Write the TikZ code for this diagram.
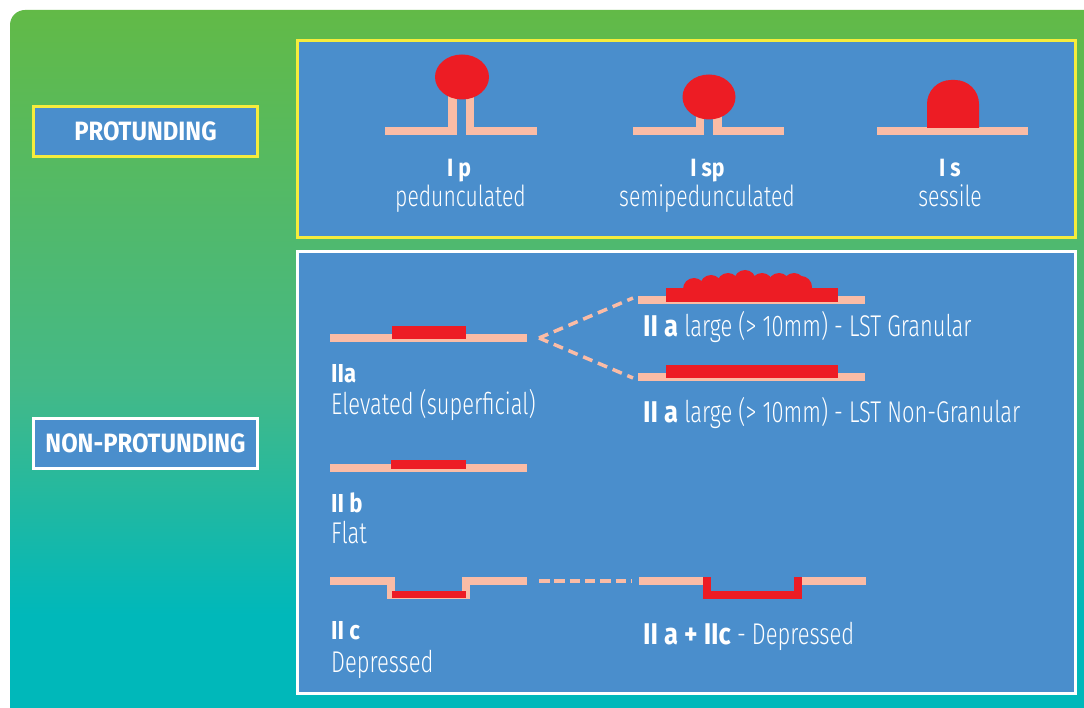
\documentclass[tikz,border=0pt]{standalone}
\usepackage{fontspec}
\IfFontExistsTF{Fira Sans Light}
  {\newfontfamily\lightfont{Fira Sans Light}[FakeStretch=0.73]}
  {\newfontfamily\lightfont{Liberation Sans}[FakeStretch=0.70]}
\newfontfamily\heavyfont{Fira Sans}[FakeStretch=0.85]
\newfontfamily\tagfont{Fira Sans}[FakeStretch=0.9]

\definecolor{gtop}{RGB}{98,186,71}
\definecolor{gmid}{RGB}{68,185,135}
\definecolor{gbot}{RGB}{0,184,186}
\definecolor{panel}{RGB}{74,142,204}
\definecolor{lesred}{RGB}{237,28,36}
\definecolor{salmon}{RGB}{250,188,166}
\definecolor{yframe}{RGB}{246,236,60}

% the path box covers 25bp..75bp of the shading
\pgfdeclareverticalshading{bgshade}{100bp}{color(0bp)=(gbot); color(33bp)=(gbot); color(49bp)=(gmid); color(75bp)=(gtop); color(100bp)=(gtop)}

\newcommand\bdlab[1]{{\heavyfont\bfseries #1}}
\newcommand\ltbig{\lightfont\fontsize{30}{33}\selectfont}
\newcommand\ltsmall{\lightfont\fontsize{29}{32}\selectfont}
\newcommand\bdbig{\heavyfont\bfseries\fontsize{26}{30}\selectfont}
\newcommand\bdsmall{\heavyfont\bfseries\fontsize{25}{29}\selectfont}

\tikzset{
  tissue/.style={fill=salmon},
  lesion/.style={fill=lesred},
  dashlink/.style={draw=salmon, line width=3.5pt, dash pattern=on 10pt off 6pt},
  dashflat/.style={draw=salmon, line width=4pt, dash pattern=on 10.5pt off 4.8pt},
  labelbox/.style={fill=panel, line width=2.7pt, minimum width=224pt,
    minimum height=50pt, inner sep=0pt, text=white,
    font=\tagfont\bfseries\fontsize{26.5}{29}\selectfont},
  txt/.style={anchor=base west, inner sep=0pt, text=white},
  ctxt/.style={anchor=base, inner sep=0pt, text=white},
}

\begin{document}
\begin{tikzpicture}[x=1pt,y=-1pt]
\useasboundingbox (0,0) rectangle (1084,708);
\fill[white] (0,0) rectangle (1084,708);
% gradient backdrop
\shade[shading=bgshade, rounded corners=15pt] (10,10) rectangle (1110,730);

% panels
\draw[fill=panel, draw=yframe, line width=3pt] (297.5,40.5) rectangle (1075.5,237.5);
\draw[fill=panel, draw=white, line width=3pt] (297,251.5) rectangle (1075.5,693.5);

% category boxes
\node[labelbox, draw=yframe] (prot) at (145.5,131.5) {PROTUNDING};
\node[labelbox, draw=white] (nonprot) at (145.5,443.5) {NON-PROTUNDING};

% ---- I p : pedunculated
\fill[tissue] (385,127) rectangle (457,135);
\fill[tissue] (448,92) rectangle (457,135);
\fill[tissue] (466,127) rectangle (537,135);
\fill[tissue] (466,92) rectangle (474,135);
\fill[lesion] (462,77) ellipse [x radius=27, y radius=22.5];
\node[ctxt, font=\bdsmall] (ip) at (459,177) {I p};
\node[ctxt, font=\ltsmall] (ipt) at (460.5,207) {pedunculated};

% ---- I sp : semipedunculated
\fill[tissue] (633,127) rectangle (704,135);
\fill[tissue] (696,110) rectangle (704,135);
\fill[tissue] (713,127) rectangle (784,135);
\fill[tissue] (713,110) rectangle (722,135);
\fill[lesion] (709,97) ellipse [x radius=26.5, y radius=22.5];
\node[ctxt, font=\bdsmall] (isp) at (707.5,177) {I sp};
\node[ctxt, font=\ltsmall] (ispt) at (707,207) {semipedunculated};

% ---- I s : sessile
\fill[tissue] (877,127) rectangle (1028,135);
\fill[lesion] (927,128) [rounded corners=24pt] -- (927,80) -- (979,80) [sharp corners] -- (979,128) -- cycle;
\node[ctxt, font=\bdsmall] (is) at (950,177) {I s};
\node[ctxt, font=\ltsmall] (ist) at (950,207) {sessile};

% ---- IIa elevated
\fill[tissue] (330,334) rectangle (527,342);
\fill[lesion] (392,326) rectangle (466,339);
\node[txt, font=\bdbig] (iia) at (331,382) {IIa};
\node[txt, font=\ltbig] (iiat) at (331,414) {Elevated (superficial)};

% ---- LST granular
\fill[tissue] (638,296) rectangle (865,304);
\fill[lesion] (666,288) rectangle (838,302);
\foreach \cx/\cy in {694/289, 711/286, 728/284, 745/281, 762/284, 779/284, 794/284, 801/287}
  \fill[lesion] (\cx,\cy) circle [radius=11];
\node[txt, font=\ltbig] (gran) at (643,337) {\bdlab{II a} large (> 10mm) - LST Granular};

% ---- LST non-granular
\fill[tissue] (638,373) rectangle (865,381);
\fill[lesion] (666,365) rectangle (838,378);
\node[txt, font=\ltbig] (nongran) at (643,422) {\bdlab{II a} large (> 10mm) - LST Non-Granular};

% links from IIa to the LST variants
\coordinate (iiaend) at (539,338);
\coordinate (granstart) at (633,298);
\coordinate (nongranstart) at (633,378);
\draw[dashlink] (iiaend) -- (granstart);
\draw[dashlink] (iiaend) -- (nongranstart);

% ---- IIb flat
\fill[tissue] (330,464) rectangle (527,472);
\fill[lesion] (391,460) rectangle (466,469);
\node[txt, font=\bdbig] (iib) at (331,512) {II b};
\node[txt, font=\ltbig] (iibt) at (331,543) {Flat};

% ---- IIc depressed
\draw[draw=salmon, line width=8pt, line join=miter]
  (330,581) -- (391,581) -- (391,594.5) -- (466,594.5) -- (466,581) -- (527,581);
\fill[lesion] (391.5,591) rectangle (466,598);
\node[txt, font=\bdbig] (iic) at (331,639) {II c};
\node[txt, font=\ltbig] (iict) at (331,672) {Depressed};

% ---- IIa + IIc
\fill[tissue] (639,577) rectangle (703,585);
\fill[tissue] (802,577) rectangle (866,585);
\draw[draw=lesred, line width=8pt, line join=miter]
  (707,577) -- (707,594.5) -- (798,594.5) -- (798,577);
\node[txt, font=\ltbig] (iiac) at (643,644) {\bdlab{II a + IIc} - Depressed};

\coordinate (iicend) at (539,581);
\coordinate (iiacstart) at (631,581);
\draw[dashflat] (iicend) -- (iiacstart);
\end{tikzpicture}
\end{document}
